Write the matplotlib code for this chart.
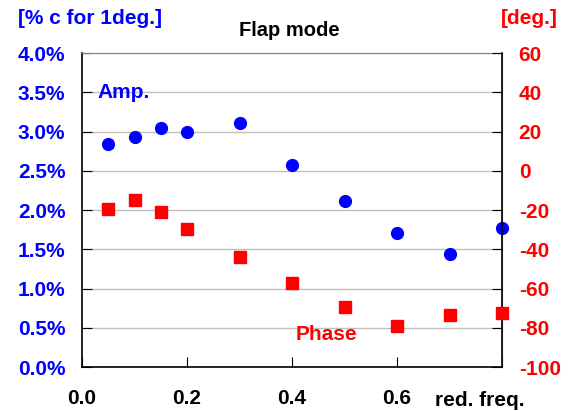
import matplotlib
matplotlib.use("Agg")
import matplotlib.pyplot as plt
from matplotlib.ticker import FuncFormatter

plt.rcParams["font.family"] = ["Liberation Sans", "DejaVu Sans"]
plt.rcParams["font.weight"] = "bold"
plt.rcParams["axes.unicode_minus"] = False

# data
freq = [0.05, 0.1, 0.15, 0.2, 0.3, 0.4, 0.5, 0.6, 0.7, 0.8]
amp = [2.84, 2.93, 3.04, 3.00, 3.11, 2.57, 2.11, 1.71, 1.44, 1.77]      # % c
phase = [-19.5, -15.0, -21.0, -29.7, -44.0, -57.2, -69.4, -79.1, -73.5, -72.5]  # deg

x_ticks = [0.0, 0.2, 0.4, 0.6, 0.8]
x_labels = ["0.0", "0.2", "0.4", "0.6", ""]
amp_ticks = [0.0, 0.5, 1.0, 1.5, 2.0, 2.5, 3.0, 3.5, 4.0]
phase_ticks = [-100, -80, -60, -40, -20, 0, 20, 40, 60]

BLUE = "#0000ff"
RED = "#ff0000"
FS = 15

fig = plt.figure(figsize=(5.68, 4.11), dpi=100)
ax = fig.add_axes([0.1444, 0.107, 0.7394, 0.764])
ax2 = ax.twinx()

# ── grid + amplitude ─────────────────────────────────────────────────────
ax.set_ylim(0, 4.0)
ax.set_xlim(0, 0.8)
ax.set_yticks(amp_ticks)
ax.yaxis.set_major_formatter(FuncFormatter(lambda v, p: f"{v:.1f}%"))
ax.set_xticks(x_ticks)
ax.set_xticklabels(x_labels)
ax.grid(axis="y", color="#c0c0c0", linewidth=1.0)
ax.set_axisbelow(True)
ax.plot(freq, amp, "o", color=BLUE, markersize=8.5, zorder=3, clip_on=False)

ax.tick_params(axis="y", direction="in", length=7, labelsize=FS, labelcolor=BLUE, pad=12)
ax.tick_params(axis="x", direction="in", length=7, labelsize=FS, pad=16)
for s in ("top", "right"):
    ax.spines[s].set_color("#808080")
ax.spines["left"].set_linewidth(1.2)
ax.spines["bottom"].set_linewidth(1.2)

# ── phase ────────────────────────────────────────────────────────────────
ax2.set_ylim(-100, 60)
ax2.set_yticks(phase_ticks)
ax2.plot(freq, phase, "s", color=RED, markersize=8.5, zorder=3, clip_on=False)
ax2.tick_params(axis="y", direction="in", length=7, labelsize=FS, labelcolor=RED, pad=12)
ax2.spines["right"].set_linewidth(1.2)
for s in ("top", "left", "bottom"):
    ax2.spines[s].set_visible(False)

# ── labels ───────────────────────────────────────────────────────────────
fig.text(18 / 568, 1 - 18 / 411, "[% c for 1deg.]", color=BLUE, fontsize=FS,
         fontweight="bold", ha="left", va="center")
fig.text(529 / 568, 1 - 18 / 411, "[deg.]", color=RED, fontsize=FS,
         fontweight="bold", ha="center", va="center")
fig.text(289 / 568, 1 - 30 / 411, "Flap mode", color="black", fontsize=14.5,
         fontweight="bold", ha="center", va="center")
fig.text(480 / 568, 1 - 400 / 411, "red. freq.", color="black", fontsize=FS,
         fontweight="bold", ha="center", va="center")
ax.text(0.03, 3.5, "Amp.", color=BLUE, fontsize=FS, fontweight="bold",
        ha="left", va="center")
ax.text(0.465, 0.42, "Phase", color=RED, fontsize=FS, fontweight="bold",
        ha="center", va="center")

fig.savefig("out.png", dpi=100)
plt.close(fig)
